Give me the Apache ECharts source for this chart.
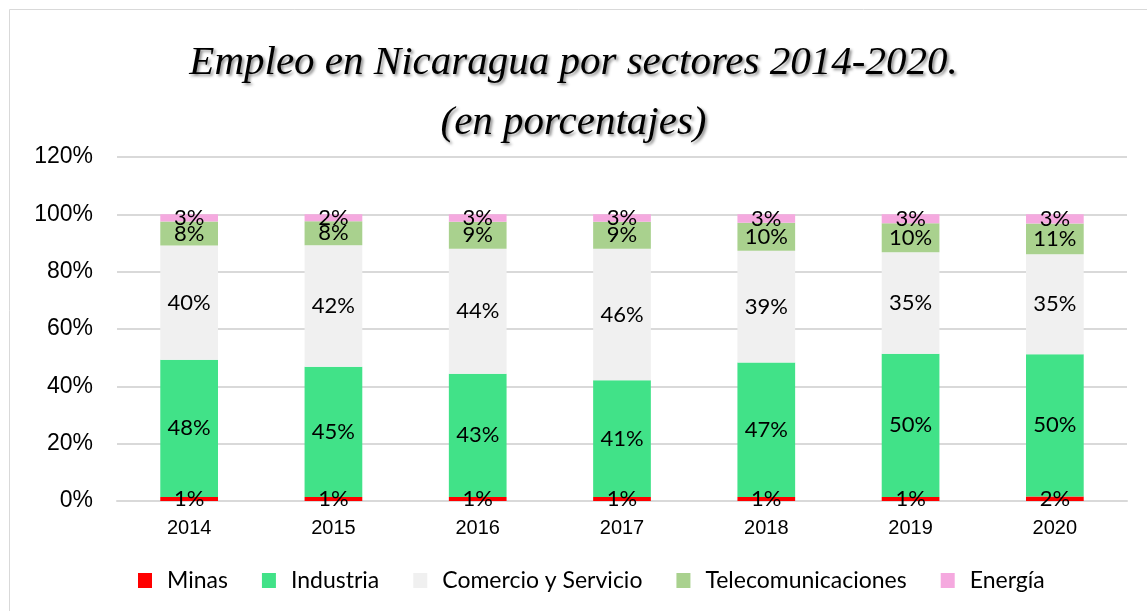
<!DOCTYPE html>
<html>
<head>
<meta charset="utf-8">
<script src="https://cdn.jsdelivr.net/npm/echarts@6/dist/echarts.min.js"></script>
<style>
    html, body { margin: 0; padding: 0; background: #fff; }
    #chart { width: 1147px; height: 611px; }
</style>
</head>
<body>
<div id="chart"></div>
<script>
var years = ['2014', '2015', '2016', '2017', '2018', '2019', '2020'];
var minas = [1.4, 1.4, 1.4, 1.4, 1.4, 1.4, 1.6];
var industria = [47.9, 45.4, 43.0, 40.7, 46.9, 50.0, 49.6];
var comercio = [39.8, 42.4, 43.6, 45.9, 39.0, 35.4, 34.9];
var telecom = [8.4, 8.4, 9.4, 9.4, 9.8, 10.1, 10.7];
var energia = [2.5, 2.4, 2.6, 2.6, 2.9, 3.1, 3.2];
var yTicks = [0, 20, 40, 60, 80, 100, 120];

var chart = echarts.init(document.getElementById('chart'));

function makeSeries(name, data, color) {
    return {
        name: name,
        type: 'bar',
        stack: 'total',
        barCategoryGap: '60%',
        data: data,
        itemStyle: { color: color },
        label: {
            show: true,
            position: 'inside',
            color: '#000',
            fontFamily: 'Lato',
            fontSize: 22,
            formatter: function (p) {
                return Math.round(p.value) + '%';
            }
        }
    };
}

var option = {
    backgroundColor: '#fff',
    animation: false,
    title: {
        text: 'Empleo en Nicaragua por sectores 2014-2020.\n(en porcentajes)',
        left: 'center',
        top: 28,
        textStyle: {
            fontFamily: 'Liberation Serif',
            fontStyle: 'italic',
            fontWeight: 'normal',
            fontSize: 41,
            lineHeight: 60,
            color: '#000',
            textShadowColor: 'rgba(0,0,0,0.45)',
            textShadowBlur: 3,
            textShadowOffsetX: 2,
            textShadowOffsetY: 2
        }
    },
    graphic: [{
        type: 'rect',
        shape: { x: 9.5, y: 9.5, width: 1160, height: 620 },
        style: { fill: 'none', stroke: '#d9d9d9', lineWidth: 1 },
        silent: true
    }],
    grid: { left: 117, right: 20, top: 157, bottom: 110 },
    legend: {
        bottom: 14,
        left: 133,
        itemWidth: 14,
        itemHeight: 15,
        itemGap: 34,
        icon: 'rect',
        textStyle: { fontFamily: 'Lato', fontSize: 23, color: '#000', padding: [0, 0, 0, 10] },
        data: ['Minas', 'Industria', 'Comercio y Servicio', 'Telecomunicaciones', 'Energía']
    },
    xAxis: {
        type: 'category',
        data: years,
        axisTick: { show: false },
        axisLine: { lineStyle: { color: '#d9d9d9', width: 2 } },
        axisLabel: { color: '#000', fontFamily: 'Liberation Sans', fontSize: 20, margin: 17 }
    },
    yAxis: {
        type: 'value',
        min: yTicks[0],
        max: yTicks[yTicks.length - 1],
        interval: 20,
        axisLabel: {
            color: '#000',
            fontFamily: 'Liberation Sans',
            fontSize: 23,
            margin: 24,
            formatter: '{value}%'
        },
        splitLine: { lineStyle: { color: '#d9d9d9', width: 2 } }
    },
    series: [
        makeSeries('Minas', minas, '#ff0000'),
        makeSeries('Industria', industria, '#41e288'),
        makeSeries('Comercio y Servicio', comercio, '#f0f0f0'),
        makeSeries('Telecomunicaciones', telecom, '#a9d18e'),
        makeSeries('Energía', energia, '#f5a9df')
    ]
};

chart.setOption(option);
</script>
</body>
</html>
